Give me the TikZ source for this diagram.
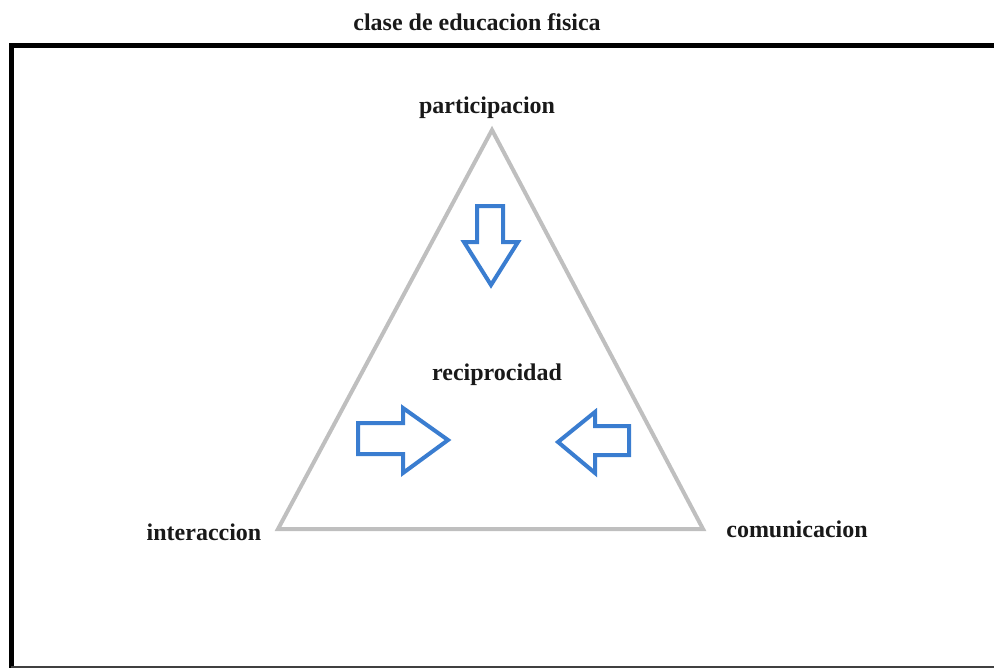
\documentclass[tikz,border=0pt]{standalone}
\usepackage{fontspec}
\setmainfont{Liberation Serif}
\begin{document}
\begin{tikzpicture}[x=0.5pt,y=-0.5pt,
  lbl/.style={anchor=base,inner sep=0pt,font=\fontsize{12}{14}\selectfont\bfseries,text=black!90},
  tri/.style={draw=black!25,line width=2pt,line join=miter},
  blockarrow/.style={draw={rgb,255:red,58;green,125;blue,208},line width=2pt,line join=miter,fill=white}]
\useasboundingbox (0,0) rectangle (994,669);
\clip (0,0) rectangle (994,669);
% frame
\draw[line width=2.5pt,black] (1010,45) -- (11,45) -- (11,668);
\draw[line width=1.2pt,black!75] (11,667) -- (1010,667);
% labels
\node[lbl] (title) at (477,30) {clase de educacion fisica};
\node[lbl] (part) at (487,113) {participacion};
\node[lbl] (reci) at (497,380) {reciprocidad};
\node[lbl] (inter) at (204,540) {interaccion};
\node[lbl] (comu) at (797,537) {comunicacion};
% triangle
\coordinate (apex) at (492,130);
\coordinate (bl) at (278,529);
\coordinate (br) at (703,529);
\draw[tri] (apex) -- (bl) -- (br) -- cycle;
% block arrows
\draw[blockarrow] (477,206) -- (503,206) -- (503,242) -- (518,242) -- (491,285) -- (464,242) -- (477,242) -- cycle;
\draw[blockarrow] (358,423) -- (403,423) -- (403,408) -- (448,440) -- (403,473) -- (403,454) -- (358,454) -- cycle;
\draw[blockarrow] (629,426) -- (595,426) -- (595,412) -- (558,442) -- (595,473) -- (595,455) -- (629,455) -- cycle;
\end{tikzpicture}
\end{document}
